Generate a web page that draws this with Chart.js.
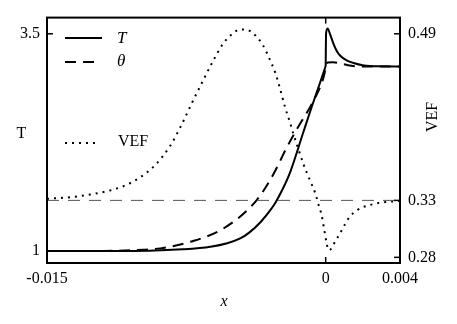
<!DOCTYPE html>
<html><head><meta charset="utf-8">
<script src="https://cdn.jsdelivr.net/npm/chart.js@4"></script>
<style>html,body{margin:0;padding:0;background:#fff}#wrap{width:457px;height:324px;position:relative}</style>
</head><body><div id="wrap"><canvas id="c"></canvas></div>
<script>
// ---- data ----
const xTicks = [-0.015, 0, 0.004];
const tTicks = [1, 3.5];
const vefTicks = [0.28, 0.3335, 0.49];

const tX = [-0.015, -0.012, -0.0095, -0.0077, -0.0062, -0.0053, -0.0046, -0.0041, -0.0035, -0.003, -0.0027, -0.0023, -0.0019, -0.0012, -0.00075, -0.0003, 0, 0.00002, 0.0001, 0.00023, 0.00041, 0.00059, 0.00077, 0.00113, 0.0015, 0.002, 0.0029, 0.004];
const tY = [1.0, 1.0005, 1.004, 1.02, 1.05, 1.09, 1.145, 1.215, 1.335, 1.465, 1.56, 1.72, 1.915, 2.37, 2.66, 2.94, 3.13, 3.50, 3.56, 3.50, 3.39, 3.305, 3.25, 3.195, 3.164, 3.138, 3.126, 3.125];

const thetaX = [-0.015, -0.012, -0.0098, -0.0089, -0.0073, -0.0055, -0.0037, -0.0028, -0.0021, -0.00156, -0.00068, -0.00014, 0, 0.0001, 0.0004, 0.0008, 0.0012, 0.0016, 0.002, 0.004];
const thetaY = [1.0, 1.002, 1.015, 1.031, 1.106, 1.26, 1.59, 1.89, 2.19, 2.40, 2.72, 2.98, 3.10, 3.17, 3.172, 3.158, 3.138, 3.127, 3.124, 3.124];

const vefX = [-0.015, -0.01376, -0.01268, -0.01161, -0.0108, -0.01, -0.00919, -0.00838, -0.00773, -0.0072, -0.00666, -0.00612, -0.00553, -0.00499, -0.00461, -0.00423, -0.00386, -0.00339, -0.00303, -0.00273, -0.00246, -0.00219, -0.00192, -0.00174, -0.00147, -0.0012, -0.00084, -0.00058, -0.00041, -0.00021, -0.00007, 0.00005, 0.00014, 0.00032, 0.0005, 0.00077, 0.00104, 0.00131, 0.00167, 0.00202, 0.00239, 0.00283, 0.00328, 0.00373, 0.004];
const vefY = [0.3350, 0.3365, 0.3390, 0.3428, 0.3475, 0.3550, 0.3665, 0.3845, 0.4055, 0.4250, 0.4440, 0.4625, 0.4805, 0.4905, 0.4940, 0.4937, 0.4897, 0.4797, 0.4667, 0.4542, 0.4387, 0.4212, 0.4066, 0.3960, 0.3817, 0.3677, 0.3521, 0.3412, 0.3310, 0.3190, 0.3050, 0.2935, 0.2868, 0.2884, 0.2946, 0.3024, 0.3110, 0.3185, 0.3240, 0.3272, 0.3292, 0.3310, 0.3320, 0.3327, 0.3330];

const refX = [-0.015, 0.004];
const refY = [0.3335, 0.3335];

// ---- chart ----
const SERIF = '"Liberation Serif", "Times New Roman", serif';
const pts = (xs, ys) => xs.map((x, i) => ({x, y: ys[i]}));
// the T profile has a jump at x = 0: draw the two sides as separate pieces so the smoothing keeps the corner sharp
const tAll = pts(tX, tY);
const tLeft = tAll.filter(p => p.x <= 0);
const tRight = tAll.filter(p => p.x >= 0);

const deco = {
  id: 'deco',
  afterDatasetsDraw(chart) {
    const {ctx, chartArea: a, scales} = chart;
    const line = (x1, y1, x2, y2) => { ctx.beginPath(); ctx.moveTo(x1, y1); ctx.lineTo(x2, y2); ctx.stroke(); };
    ctx.save();
    ctx.strokeStyle = '#000';
    ctx.lineWidth = 2;
    ctx.setLineDash([]);
    ctx.strokeRect(a.left, a.top, a.right - a.left, a.bottom - a.top);
    ctx.lineWidth = 1.5;
    const L = 6;
    tTicks.forEach(v => { const y = scales.y.getPixelForValue(v); line(a.left, y, a.left + L, y); });
    vefTicks.forEach(v => { const y = scales.y1.getPixelForValue(v); line(a.right - L, y, a.right, y); });
    xTicks.forEach(v => { const x = scales.x.getPixelForValue(v); line(x, a.bottom, x, a.bottom - L); line(x, a.top, x, a.top + L); });

    // legend
    ctx.lineWidth = 2;
    ctx.lineCap = 'butt';
    ctx.setLineDash([]); line(65, 38, 102, 38);
    ctx.setLineDash([11, 7]); line(65, 62, 101, 62);
    ctx.setLineDash([2, 5]); line(65, 143, 97, 143);
    ctx.setLineDash([]);
    ctx.fillStyle = '#000';
    ctx.textBaseline = 'middle';
    ctx.textAlign = 'left';
    ctx.font = 'italic 17px ' + SERIF;
    ctx.fillText('T', 117, 39);
    ctx.fillText('θ', 117, 62);
    ctx.font = '16px ' + SERIF;
    ctx.fillText('VEF', 118, 142);

    // axis titles
    ctx.textAlign = 'center';
    ctx.font = '16px ' + SERIF;
    ctx.fillText('T', 21.5, 134);
    ctx.font = 'italic 16px ' + SERIF;
    ctx.fillText('x', 224, 302);
    ctx.save();
    ctx.translate(433, 117);
    ctx.rotate(-Math.PI / 2);
    ctx.font = '16px ' + SERIF;
    ctx.fillText('VEF', 0, 0);
    ctx.restore();
    ctx.restore();
  }
};

const tickFont = {family: SERIF, size: 16};
const solid = {yAxisID: 'y', borderColor: '#000', borderWidth: 2, pointRadius: 0, cubicInterpolationMode: 'monotone', fill: false};

new Chart(document.getElementById('c'), {
  type: 'line',
  data: {
    datasets: [
      {label: 'VEF ref', data: pts(refX, refY), yAxisID: 'y1', borderColor: '#555', borderWidth: 1, borderDash: [12, 9], pointRadius: 0, fill: false},
      {label: 'VEF', data: pts(vefX, vefY), yAxisID: 'y1', borderColor: '#000', borderWidth: 2, borderDash: [2, 5], borderCapStyle: 'butt', pointRadius: 0, cubicInterpolationMode: 'monotone', fill: false},
      {label: 'θ', data: pts(thetaX, thetaY), yAxisID: 'y', borderColor: '#000', borderWidth: 2, borderDash: [11, 7], pointRadius: 0, cubicInterpolationMode: 'monotone', fill: false},
      Object.assign({label: 'T', data: tLeft}, solid),
      Object.assign({label: 'T ', data: tRight}, solid)
    ]
  },
  options: {
    responsive: true,
    maintainAspectRatio: false,
    animation: false,
    layout: {padding: {top: 16, left: 0, right: 0, bottom: 0}},
    plugins: {legend: {display: false}, tooltip: {enabled: false}},
    scales: {
      x: {
        type: 'linear', min: -0.015, max: 0.004,
        grid: {display: false, drawTicks: false}, border: {display: false},
        afterBuildTicks: s => { s.ticks = xTicks.map(v => ({value: v})); },
        afterFit: s => { s.height = 61; },
        ticks: {font: tickFont, color: '#000', padding: 6, maxRotation: 0, autoSkip: false,
          callback: v => (v === 0 ? '0' : String(v))}
      },
      y: {
        type: 'linear', position: 'left', min: 0.8628, max: 3.6863,
        grid: {display: false, drawTicks: false}, border: {display: false},
        afterBuildTicks: s => { s.ticks = tTicks.map(v => ({value: v})); },
        afterFit: s => { s.width = 47; },
        ticks: {font: tickFont, color: '#000', padding: 7, autoSkip: false, callback: v => String(v)}
      },
      y1: {
        type: 'linear', position: 'right', min: 0.27468, max: 0.50521,
        grid: {display: false, drawTicks: false}, border: {display: false},
        afterBuildTicks: s => { s.ticks = vefTicks.map(v => ({value: v})); },
        afterFit: s => { s.width = 57; },
        ticks: {font: tickFont, color: '#000', padding: 8, autoSkip: false, callback: v => v.toFixed(2)}
      }
    }
  },
  plugins: [deco]
});
</script>
</body></html>
